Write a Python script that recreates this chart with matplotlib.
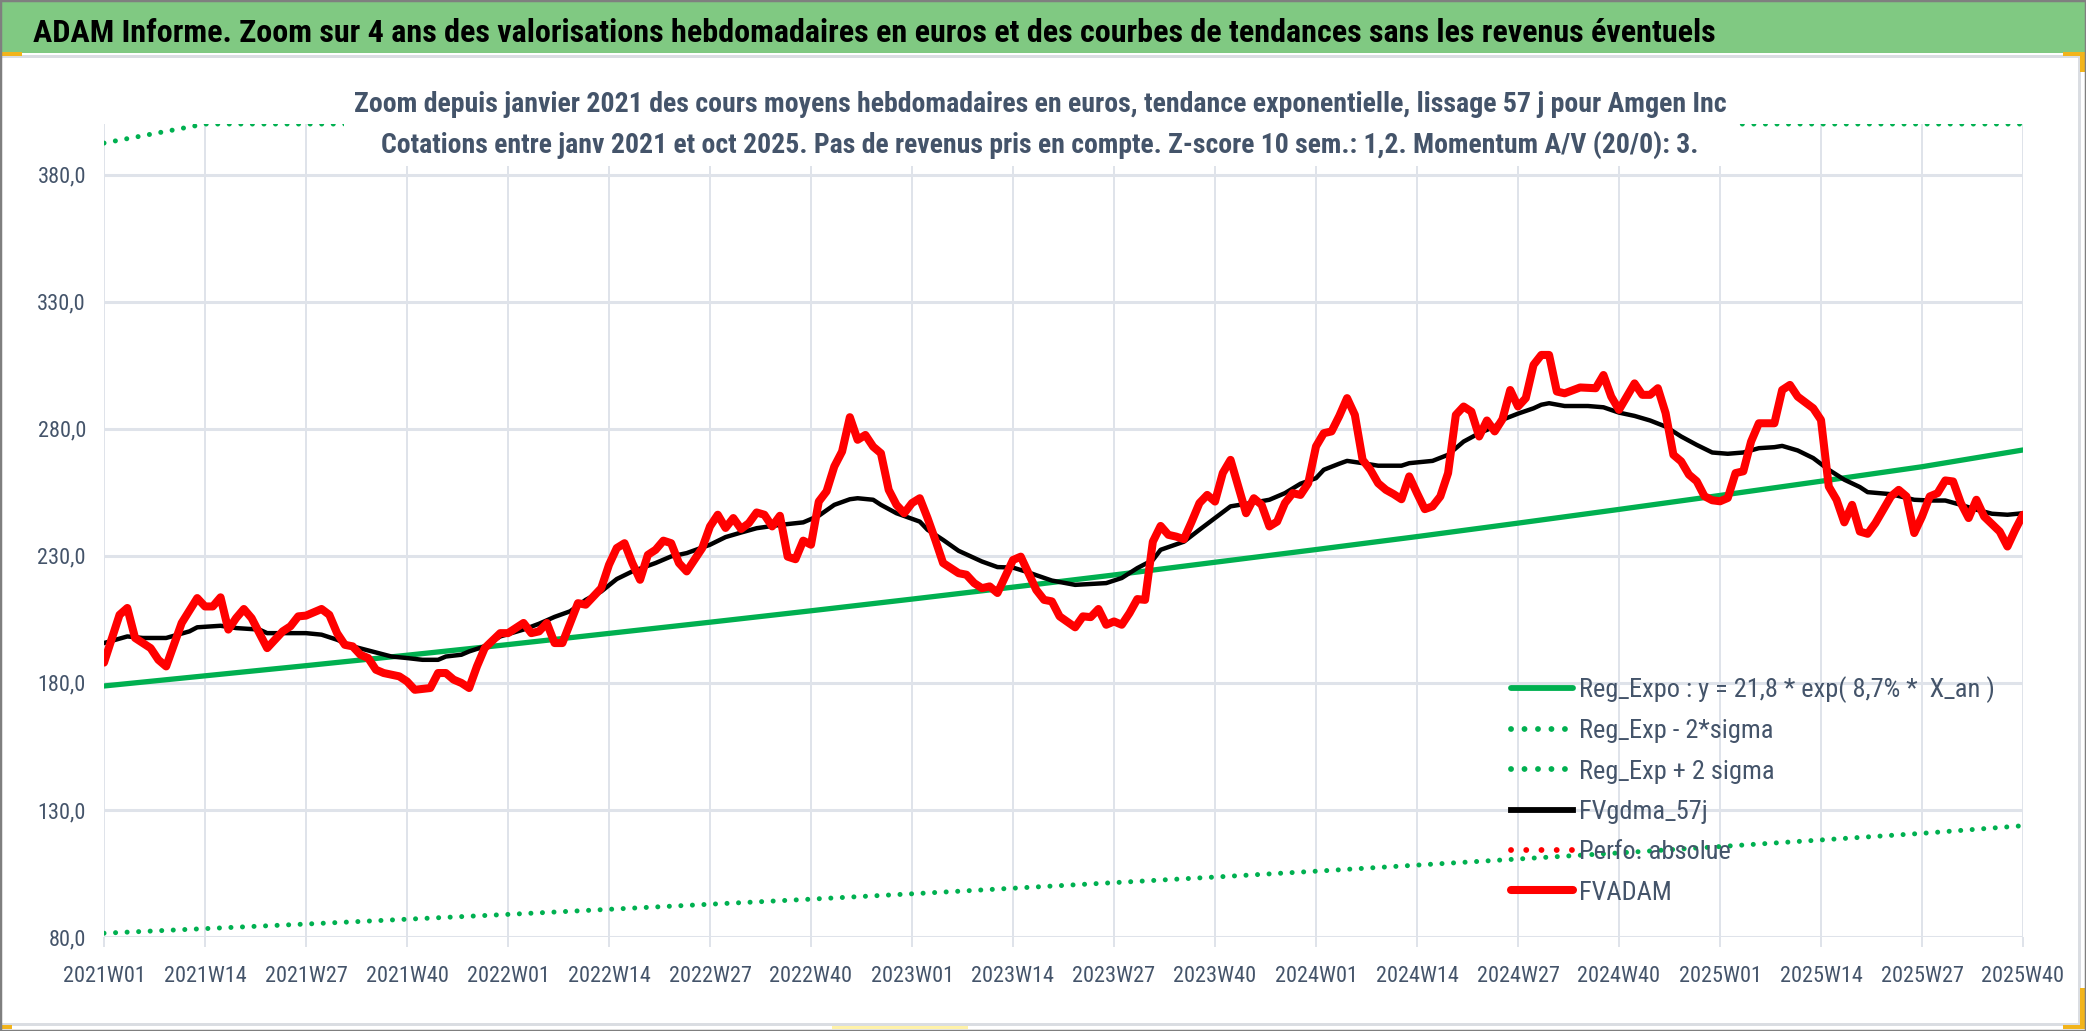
import numpy as np
import matplotlib
matplotlib.use('Agg')
import matplotlib.pyplot as plt
from matplotlib import font_manager
from matplotlib.patches import Rectangle

# Police étroite proche de Calibri si disponible
noms = {f.name for f in font_manager.fontManager.ttflist}
police = next((n for n in ['Liberation Sans Narrow', 'Roboto Condensed',
                           'Open Sans Condensed', 'DejaVu Sans'] if n in noms), 'DejaVu Sans')
plt.rcParams['font.family'] = [police, 'DejaVu Sans']
if police == 'DejaVu Sans':
    plt.rcParams['font.stretch'] = 'condensed'

# ---- Données ----
titre = ("ADAM Informe. Zoom sur 4 ans des valorisations hebdomadaires en euros "
         "et des courbes de tendances sans les revenus éventuels")
sous_titre_1 = ("Zoom depuis janvier 2021 des cours moyens hebdomadaires en euros, "
                "tendance exponentielle, lissage 57 j pour Amgen Inc")
sous_titre_2 = ("Cotations entre janv 2021 et oct 2025. Pas de revenus pris en compte. "
                "Z-score 10 sem.: 1,2. Momentum A/V (20/0): 3.")

n_semaines = 248  # 2021W01 -> 2025W40
tick_labels = ['2021W01', '2021W14', '2021W27', '2021W40',
               '2022W01', '2022W14', '2022W27', '2022W40',
               '2023W01', '2023W14', '2023W27', '2023W40',
               '2024W01', '2024W14', '2024W27', '2024W40',
               '2025W01', '2025W14', '2025W27', '2025W40']
y_ticks = [80, 130, 180, 230, 280, 330, 380]

# courbes de régression lues aux semaines des repères (toutes les 13 semaines)
reg_expo = [178.8, 182.8, 186.8, 190.9, 195.1, 199.5, 203.9, 208.4, 213.0, 217.7,
            222.5, 227.5, 232.5, 237.6, 242.9, 248.3, 253.8, 259.4, 265.1, 271.7]
reg_moins = [81.5, 83.3, 85.1, 87.0, 88.9, 90.9, 92.9, 94.9, 97.0, 99.2,
             101.4, 103.6, 105.9, 108.3, 110.7, 113.1, 115.6, 118.2, 120.8, 123.8]
reg_plus = [392.5, 401.2, 410.0, 419.0, 428.2, 437.9, 447.6, 457.4, 467.5, 477.9,
            488.4, 499.4, 510.3, 521.5, 533.2, 545.0, 557.1, 569.4, 581.9, 596.4]

# FVADAM (cours hebdo), semaine -> valeur
fvadam_sem = [0, 2, 3, 4, 6, 7, 8, 10, 12, 13, 14, 15, 16, 17, 18, 19, 21, 23, 24, 25,
              26, 28, 29, 30, 31, 32, 33, 34, 35, 36, 38, 39, 40, 42, 43, 44, 45, 46, 47, 48,
              49, 51, 52, 54, 55, 56, 57, 58, 59, 60, 61, 62, 64, 65, 66, 67, 68, 69, 70, 71,
              72, 73, 74, 75, 77, 78, 79, 80, 81, 82, 83, 84, 85, 86, 87, 88, 89, 90, 91, 92,
              93, 94, 95, 96, 97, 98, 99, 100, 101, 102, 103, 104, 105, 106, 107, 108, 109, 110, 111, 112,
              113, 114, 115, 116, 117, 118, 119, 120, 121, 122, 123, 125, 126, 127, 128, 129, 130, 131, 132, 133,
              134, 135, 136, 137, 138, 139, 140, 141, 142, 143, 144, 145, 146, 147, 148, 149, 150, 151, 152, 153,
              154, 155, 156, 157, 158, 159, 160, 161, 162, 163, 164, 165, 166, 167, 168, 169, 170, 171, 172, 173,
              174, 175, 176, 177, 178, 179, 180, 181, 182, 183, 184, 185, 186, 187, 188, 190, 192, 193, 194, 195,
              196, 197, 198, 199, 200, 201, 202, 203, 204, 205, 206, 207, 208, 209, 210, 211, 212, 213, 215, 216,
              217, 218, 220, 221, 222, 223, 224, 225, 226, 227, 228, 230, 231, 232, 233, 234, 235, 236, 237, 238,
              239, 240, 241, 242, 244, 245, 246, 247]
fvadam = [188.0, 206.8, 209.5, 197.7, 193.7, 189.1, 186.5, 203.6, 213.4, 210.1, 210.1, 213.7, 201.0, 205.5, 209.1, 205.5, 193.7, 200.3, 202.3, 206.2,
          206.5, 209.1, 206.8, 199.6, 195.0, 194.4, 191.1, 189.8, 185.2, 183.9, 182.6, 180.6, 177.3, 178.0, 183.9, 183.9, 181.3, 180.0, 178.0, 186.5,
          193.7, 199.6, 199.6, 203.6, 199.6, 200.3, 203.6, 195.7, 195.7, 203.6, 211.4, 210.8, 217.3, 226.5, 233.1, 235.0, 227.2, 220.6, 230.4, 232.4,
          236.0, 235.0, 227.2, 223.9, 233.1, 241.6, 246.2, 241.0, 244.9, 240.6, 242.9, 247.1, 246.2, 241.6, 245.8, 229.7, 228.7, 236.0, 234.4, 251.4,
          255.4, 265.2, 271.1, 284.6, 275.7, 277.6, 273.0, 270.4, 256.0, 250.1, 246.8, 250.8, 252.7, 244.9, 236.3, 227.2, 225.2, 223.2, 222.6, 219.3,
          217.3, 218.0, 215.4, 221.9, 228.4, 229.7, 223.2, 216.6, 212.7, 212.1, 206.2, 201.9, 206.2, 205.9, 209.1, 202.9, 204.2, 202.9, 207.5, 213.0,
          212.7, 235.6, 241.8, 238.3, 237.6, 236.6, 243.5, 250.8, 254.0, 251.4, 262.6, 267.8, 257.3, 246.8, 252.7, 250.1, 241.6, 243.5, 250.8, 254.7,
          254.0, 258.6, 273.1, 278.3, 279.0, 285.1, 292.1, 285.5, 267.8, 263.9, 258.6, 256.0, 254.3, 252.3, 261.3, 254.7, 248.4, 249.5, 253.4, 262.6,
          285.5, 288.8, 286.8, 277.0, 283.3, 279.0, 283.8, 295.3, 288.8, 292.1, 305.2, 309.1, 309.1, 294.7, 294.0, 296.3, 296.0, 301.2, 292.7, 287.5,
          292.7, 297.9, 293.4, 293.4, 296.0, 286.2, 269.8, 267.2, 262.0, 259.4, 253.5, 251.9, 251.5, 252.8, 262.6, 263.3, 275.0, 282.2, 282.2, 295.3,
          297.3, 292.7, 288.1, 283.5, 257.3, 252.1, 243.2, 250.1, 239.6, 238.7, 242.9, 253.4, 256.0, 253.4, 239.0, 245.5, 253.4, 254.7, 259.7, 259.3,
          250.8, 244.9, 252.1, 245.5, 239.6, 233.7, 240.3, 246.2]

# FVgdma_57j (moyenne lissée), semaine -> valeur
gdma_sem = [0, 3, 5, 8, 11, 12, 15, 17, 20, 21, 26, 28, 30, 32, 35, 37, 39, 41, 43, 44,
            46, 47, 49, 51, 54, 56, 58, 60, 62, 64, 66, 68, 71, 73, 75, 78, 80, 82, 84, 87,
            90, 92, 94, 96, 97, 99, 100, 102, 105, 106, 108, 110, 113, 115, 117, 119, 120, 122, 125, 129,
            131, 133, 135, 136, 139, 141, 143, 145, 148, 150, 152, 154, 156, 157, 159, 160, 162, 164, 167, 168,
            171, 173, 175, 177, 179, 180, 182, 184, 185, 186, 188, 191, 193, 195, 197, 199, 201, 203, 205, 207,
            209, 211, 213, 215, 216, 218, 220, 222, 224, 226, 227, 230, 233, 235, 237, 239, 241, 243, 245, 247]
gdma = [195.7, 198.3, 197.7, 197.7, 200.3, 201.9, 202.5, 201.6, 201.0, 199.6, 199.6, 199.0, 197.0, 194.4, 192.0, 190.4, 189.8, 189.1, 189.1, 190.4,
        191.1, 192.4, 194.4, 198.3, 201.0, 203.3, 206.0, 208.2, 212.7, 216.0, 220.9, 223.9, 227.2, 229.8, 231.1, 234.4, 237.4, 239.2, 240.9, 242.2,
        243.2, 245.8, 250.1, 252.3, 252.7, 252.1, 250.1, 246.8, 243.5, 240.3, 236.3, 232.0, 227.8, 225.6, 225.4, 223.5, 222.4, 220.3, 218.6, 219.3,
        221.3, 225.2, 228.4, 232.4, 235.6, 240.3, 244.9, 249.5, 251.0, 252.1, 254.7, 258.4, 260.6, 263.9, 266.3, 267.4, 266.5, 265.5, 265.5, 266.5,
        267.4, 269.8, 275.0, 278.3, 280.9, 283.6, 286.0, 288.1, 289.5, 290.1, 289.0, 289.0, 288.5, 286.4, 285.1, 283.3, 280.9, 277.0, 273.7, 270.7,
        270.2, 270.7, 272.4, 272.8, 273.3, 271.5, 268.5, 263.9, 260.0, 257.1, 255.1, 254.3, 252.1, 251.8, 251.8, 250.1, 248.2, 246.6, 246.2, 246.8]

y_min, y_max = 80, 400

# ---- Couleurs ----
vert = '#00B050'
rouge = '#FF0000'
gris_texte = '#44546A'
gris_grille = '#DFE3EA'
orange = '#F2B41B'

W, H = 2086, 1031
fig = plt.figure(figsize=(W / 100, H / 100), dpi=100)
ax = fig.add_axes([104 / W, 1 - 937 / H, 1919 / W, 813 / H])

tick_pos = np.arange(0, n_semaines, 13)
pointille = (0, (0.01, 2.3))

ax.plot(tick_pos, reg_expo, color=vert, lw=3.8, solid_capstyle='round',
        label='Reg_Expo : y = 21,8 * exp( 8,7% *  X_an )', zorder=3)
ax.plot(tick_pos, reg_moins, color=vert, lw=3.6, linestyle=pointille,
        dash_capstyle='round', label='Reg_Exp - 2*sigma', zorder=3)
# Excel plaque la courbe sur le bord haut de l'axe
ax.plot(tick_pos, np.minimum(reg_plus, y_max), color=vert, lw=3.6,
        linestyle=pointille, dash_capstyle='round',
        label='Reg_Exp + 2 sigma', zorder=3)
ax.plot(gdma_sem, gdma, color='black', lw=3.2, solid_joinstyle='round',
        label='FVgdma_57j', zorder=4)
ax.plot([], [], color=rouge, lw=3.0, linestyle=(0, (0.01, 2.6)),
        dash_capstyle='round', label='Perfo. absolue')
ax.plot(fvadam_sem, fvadam, color=rouge, lw=5.8, solid_joinstyle='round',
        solid_capstyle='round', label='FVADAM', zorder=5)

ax.set_xlim(0, n_semaines - 1)
ax.set_ylim(y_min, y_max)
ax.set_xticks(tick_pos)
ax.set_xticklabels(tick_labels)
ax.set_yticks(y_ticks)
ax.set_yticklabels([f'{v:.1f}'.replace('.', ',') for v in y_ticks])

for s in ax.spines.values():
    s.set_visible(False)
ax.grid(axis='y', color=gris_grille, lw=2.2, zorder=0)
ax.grid(axis='x', color=gris_grille, lw=1.4, zorder=0)
ax.set_axisbelow(True)
ax.tick_params(axis='x', length=7, width=1.4, color=gris_grille, pad=14,
               labelsize=16, labelcolor=gris_texte)
ax.tick_params(axis='y', length=0, pad=13, labelsize=16, labelcolor=gris_texte)

leg = ax.legend(loc='upper left', bbox_to_anchor=(0.733, 0.321), frameon=False,
                fontsize=19, handlelength=2.35, handletextpad=0.25,
                labelspacing=0.62, borderpad=0, borderaxespad=0)
for t in leg.get_texts():
    t.set_color(gris_texte)
for ln in leg.get_lines():
    ln.set_linewidth(max(ln.get_linewidth(), 4.2))

# ---- Bandeau de titre, sous-titres et cadre ----
def rect_px(x0, y0, x1, y1, couleur, z=1):
    fig.add_artist(Rectangle((x0 / W, 1 - y1 / H), (x1 - x0) / W, (y1 - y0) / H,
                             transform=fig.transFigure, facecolor=couleur,
                             edgecolor='none', zorder=z))

rect_px(0, 0, W, 53, '#80C982')
rect_px(344, 58, 1735, 166, 'white')
# cadre gris clair de la zone graphique
rect_px(0, 55, 2080, 58, '#DADDE2')
rect_px(2078, 55, 2081, 1026, '#DADDE2')
rect_px(0, 1023, 2081, 1026, '#DADDE2')
# poignées de sélection
rect_px(0, 52, 22, 56, orange, 3)
rect_px(2063, 52, 2086, 56, orange, 3)
rect_px(2080, 52, 2086, 72, orange, 3)
rect_px(2080, 988, 2086, 1029, orange, 3)
rect_px(2063, 1025, 2086, 1029, orange, 3)
rect_px(0, 1025, 12, 1029, orange, 3)
rect_px(832, 1026, 968, 1029, '#FFF2A8', 3)

t0 = fig.text(33 / W, 1 - 42 / H, titre, fontsize=24, fontweight='bold',
              color='black', ha='left', va='baseline', zorder=2)
t1 = fig.text(1040 / W, 1 - 112 / H, sous_titre_1, fontsize=22, fontweight='bold',
              color=gris_texte, ha='center', va='baseline', zorder=2)
t2 = fig.text(1040 / W, 1 - 153 / H, sous_titre_2, fontsize=22, fontweight='bold',
              color=gris_texte, ha='center', va='baseline', zorder=2)

# ajuste la taille des titres sur la largeur observée
rend = fig.canvas.get_renderer()
for t, largeur in [(t0, 1695), (t1, 1377), (t2, 1317)]:
    w = t.get_window_extent(rend).width
    t.set_fontsize(t.get_fontsize() * largeur / w)

fig.add_artist(Rectangle((0, 0), 1, 1, transform=fig.transFigure, facecolor='none',
                         edgecolor='#7F7F7F', lw=2.5, zorder=6))

fig.savefig('out.png', dpi=100)
